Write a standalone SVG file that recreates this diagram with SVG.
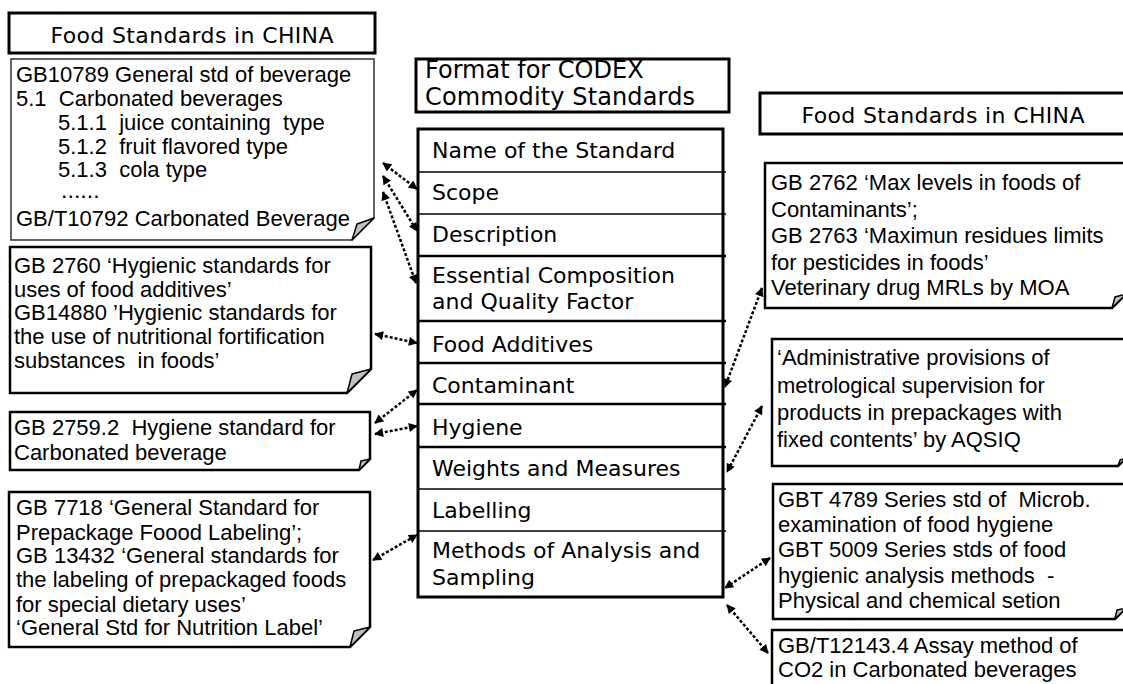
<svg xmlns="http://www.w3.org/2000/svg" width="1123" height="684" viewBox="0 0 1123 684">
<style>
.bg{fill:#fff}
.title{fill:#fff;stroke:#000;stroke-width:3}
.note{fill:#fff;stroke:#000;stroke-width:2.5}
.thin{fill:#fff;stroke:#333;stroke-width:1.5}
.fold{fill:#c0c0c0;stroke:#000;stroke-width:1.5;stroke-linejoin:round}
.t{font-family:"Liberation Sans",Arial,sans-serif;font-size:22px;fill:#000}
.v{font-family:"DejaVu Sans",Verdana,sans-serif;font-size:22px;fill:#000}
.row{fill:none;stroke:#000;stroke-width:1.5}
.rowb{fill:none;stroke:#000;stroke-width:2.5}
.conn{fill:none;stroke:#000;stroke-width:2.5;stroke-dasharray:3 2}
</style>
<defs>
<marker id="ah" viewBox="0 0 10 10" refX="9" refY="5" markerWidth="10" markerHeight="9" markerUnits="userSpaceOnUse" orient="auto-start-reverse">
<path d="M0,0 L10,5 L0,10 Z" fill="#000"/>
</marker>
</defs>
<rect class="bg" x="0" y="0" width="1123" height="684"/>

<g id="title-left">
<rect class="title" x="9" y="13" width="366" height="40"/>
<text class="v" x="192" y="43" text-anchor="middle" textLength="283">Food Standards in CHINA</text>
</g>

<g id="gb10789">
<path class="thin" d="M11,59 H374 V218 L352,240 H11 Z"/>
<path class="fold" d="M352,240 L357,224 L374,218 Z"/>
<text class="t" x="16" y="82">GB10789 General std of beverage</text>
<text class="t" x="16" y="106" xml:space="preserve">5.1  Carbonated beverages</text>
<text class="t" x="58" y="130" xml:space="preserve">5.1.1  juice containing  type</text>
<text class="t" x="58" y="154" xml:space="preserve">5.1.2  fruit flavored type</text>
<text class="t" x="58" y="177" xml:space="preserve">5.1.3  cola type</text>
<text class="t" x="62" y="198" style="font-size:16px;font-weight:bold;letter-spacing:2px">......</text>
<text class="t" x="16" y="226">GB/T10792 Carbonated Beverage</text>
</g>

<g id="gb2760">
<path class="note" d="M10,247 H371 V369 L347,393 H10 Z"/>
<path class="fold" d="M347,393 L352,374 L371,369 Z"/>
<text class="t" x="14" y="273">GB 2760 ‘Hygienic standards for</text>
<text class="t" x="14" y="297">uses of food additives’</text>
<text class="t" x="14" y="320">GB14880 ’Hygienic standards for</text>
<text class="t" x="14" y="344">the use of nutritional fortification</text>
<text class="t" x="14" y="368" xml:space="preserve">substances  in foods’</text>
</g>

<g id="gb2759">
<path class="note" d="M10,412 H370 V459 L359,470 H10 Z"/>
<path class="fold" d="M359,470 L361,461 L370,459 Z"/>
<text class="t" x="14" y="435" xml:space="preserve">GB 2759.2  Hygiene standard for</text>
<text class="t" x="14" y="460">Carbonated beverage</text>
</g>

<g id="gb7718">
<path class="note" d="M9,492 H370 V627 L350,647 H9 Z"/>
<path class="fold" d="M350,647 L354,631 L370,627 Z"/>
<text class="t" x="16" y="515">GB 7718 ‘General Standard for</text>
<text class="t" x="16" y="540">Prepackage Foood Labeling’;</text>
<text class="t" x="16" y="563">GB 13432 ‘General standards for</text>
<text class="t" x="16" y="587">the labeling of prepackaged foods</text>
<text class="t" x="16" y="612">for special dietary uses’</text>
<text class="t" x="16" y="635">‘General Std for Nutrition Label’</text>
</g>

<g id="codex-header">
<rect class="title" x="416" y="59" width="313" height="53"/>
<text class="v" x="425" y="78" style="font-size:24px">Format for CODEX</text>
<text class="v" x="425" y="105" style="font-size:24px" textLength="270">Commodity Standards</text>
</g>

<g id="codex-table">
<g id="row-name"><text class="v" x="432" y="158">Name of the Standard</text></g>
<g id="row-scope"><line class="row" x1="418" y1="172" x2="726" y2="172"/><text class="v" x="432" y="200">Scope</text></g>
<g id="row-description"><line class="row" x1="418" y1="214" x2="726" y2="214"/><text class="v" x="432" y="242">Description</text></g>
<g id="row-essential"><line class="rowb" x1="418" y1="256" x2="726" y2="256"/><text class="v" x="432" y="283">Essential Composition</text><text class="v" x="432" y="309">and Quality Factor</text></g>
<g id="row-additives"><line class="rowb" x1="418" y1="321" x2="726" y2="321"/><text class="v" x="432" y="352">Food Additives</text></g>
<g id="row-contaminant"><line class="rowb" x1="418" y1="363" x2="726" y2="363"/><text class="v" x="432" y="393">Contaminant</text></g>
<g id="row-hygiene"><line class="rowb" x1="418" y1="404" x2="726" y2="404"/><text class="v" x="432" y="435">Hygiene</text></g>
<g id="row-weights"><line class="rowb" x1="418" y1="447" x2="726" y2="447"/><text class="v" x="432" y="476">Weights and Measures</text></g>
<g id="row-labelling"><line class="row" x1="418" y1="489" x2="726" y2="489"/><text class="v" x="432" y="518">Labelling</text></g>
<g id="row-methods"><line class="row" x1="418" y1="531" x2="726" y2="531"/><text class="v" x="432" y="558">Methods of Analysis and</text><text class="v" x="432" y="585">Sampling</text></g>
<rect x="418" y="129" width="305" height="468" fill="none" stroke="#000" stroke-width="3"/>
</g>

<g id="title-right">
<rect class="title" x="760" y="93" width="366" height="41"/>
<text class="v" x="943" y="123" text-anchor="middle" textLength="283">Food Standards in CHINA</text>
</g>

<g id="gb2762">
<path class="note" d="M765,163 H1126 V294 L1112,308 H765 Z"/>
<path class="fold" d="M1112,308 L1115,297 L1126,294 Z"/>
<text class="t" x="771" y="190">GB 2762 ‘Max levels in foods of</text>
<text class="t" x="771" y="217">Contaminants’;</text>
<text class="t" x="771" y="243">GB 2763 ‘Maximun residues limits</text>
<text class="t" x="771" y="270">for pesticides in foods’</text>
<text class="t" x="771" y="295">Veterinary drug MRLs by MOA</text>
</g>

<g id="aqsiq">
<path class="note" d="M772,339 H1126 V458 L1118,466 H772 Z"/>
<path class="fold" d="M1118,466 L1120,460 L1126,458 Z"/>
<text class="t" x="777" y="365">‘Administrative provisions of</text>
<text class="t" x="777" y="393">metrological supervision for</text>
<text class="t" x="777" y="420">products in prepackages with</text>
<text class="t" x="777" y="447">fixed contents’ by AQSIQ</text>
</g>

<g id="gbt4789">
<path class="note" d="M773,484 H1126 V608 L1115,619 H773 Z"/>
<path class="fold" d="M1115,619 L1117,610 L1126,608 Z"/>
<text class="t" x="778" y="507" xml:space="preserve">GBT 4789 Series std of  Microb.</text>
<text class="t" x="778" y="532">examination of food hygiene</text>
<text class="t" x="778" y="557">GBT 5009 Series stds of food</text>
<text class="t" x="778" y="583" xml:space="preserve">hygienic analysis methods  -</text>
<text class="t" x="778" y="608">Physical and chemical setion</text>
</g>

<g id="gbt12143">
<rect class="note" x="772" y="630" width="354" height="70"/>
<text class="t" x="778" y="653">GB/T12143.4 Assay method of</text>
<text class="t" x="778" y="677">CO2 in Carbonated beverages</text>
</g>

<g id="connectors">
<path class="conn" d="M383,163 L417,189" marker-start="url(#ah)" marker-end="url(#ah)"/>
<path class="conn" d="M383,176 L417,231" marker-start="url(#ah)" marker-end="url(#ah)"/>
<path class="conn" d="M383,192 L416,283" marker-start="url(#ah)" marker-end="url(#ah)"/>
<path class="conn" d="M375,334 L417,343" marker-start="url(#ah)" marker-end="url(#ah)"/>
<path class="conn" d="M375,423 L417,390" marker-start="url(#ah)" marker-end="url(#ah)"/>
<path class="conn" d="M375,434 L417,426" marker-start="url(#ah)" marker-end="url(#ah)"/>
<path class="conn" d="M373,560 L417,535" marker-start="url(#ah)" marker-end="url(#ah)"/>
<path class="conn" d="M762,288 L725,387" marker-start="url(#ah)" marker-end="url(#ah)"/>
<path class="conn" d="M762,406 L727,472" marker-start="url(#ah)" marker-end="url(#ah)"/>
<path class="conn" d="M770,558 L725,588" marker-start="url(#ah)" marker-end="url(#ah)"/>
<path class="conn" d="M727,605 L768,653" marker-start="url(#ah)" marker-end="url(#ah)"/>
</g>
</svg>
